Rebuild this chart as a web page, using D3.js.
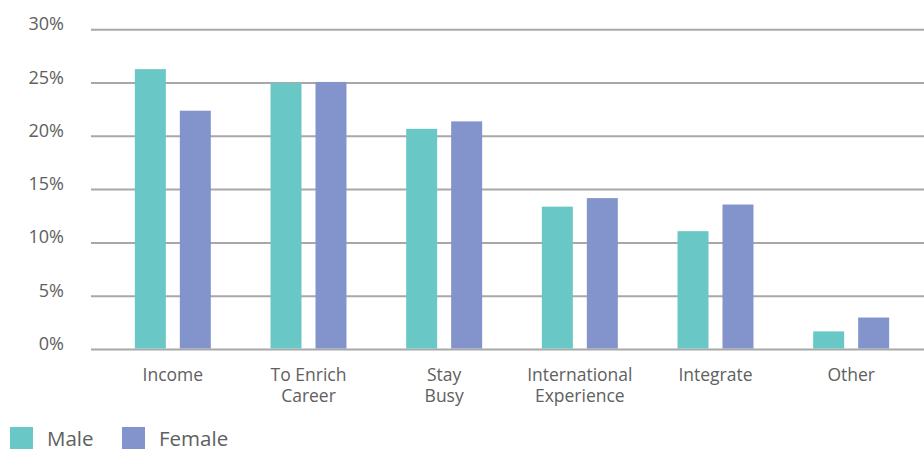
<!DOCTYPE html>
<html>
<head>
<meta charset="utf-8">
<script src="https://cdn.jsdelivr.net/npm/d3@7"></script>
<style>
  html, body { margin: 0; padding: 0; background: #fff; }
  svg { display: block; font-family: "Open Sans", sans-serif; }
</style>
</head>
<body>
<div id="chart"></div>
<script>
// values (percent)
const categories = ['Income', 'To Enrich Career', 'Stay Busy', 'International Experience', 'Integrate', 'Other'];
const categoryLines = [['Income'], ['To Enrich', 'Career'], ['Stay', 'Busy'], ['International', 'Experience'], ['Integrate'], ['Other']];
const maleValues = [26.3, 25.0, 20.7, 13.4, 11.1, 1.7];
const femaleValues = [22.4, 25.1, 21.4, 14.2, 13.6, 3.0];
const seriesNames = ['Male', 'Female'];
const yTicks = [0, 5, 10, 15, 20, 25, 30];

const colors = { Male: '#69c8c6', Female: '#8393cb' };
const width = 924;
const height = 451;

const svg = d3.select('#chart').append('svg')
  .attr('width', width)
  .attr('height', height);

const y = d3.scaleLinear().domain([0, 30]).range([349.5, 29.7]);
const x0 = d3.scaleBand().domain(categories).range([105, 919]).paddingInner(0.44).paddingOuter(0.22);
const x1 = d3.scaleBand().domain(seriesNames).range([0, x0.bandwidth()]).paddingInner(0.311).paddingOuter(0);

// gridlines
svg.append('g').selectAll('line')
  .data(yTicks)
  .join('line')
  .attr('x1', 91)
  .attr('x2', width)
  .attr('y1', (d) => y(d))
  .attr('y2', (d) => y(d))
  .attr('stroke', '#a8a8a8')
  .attr('stroke-width', 2);

// y tick labels
svg.append('g').selectAll('text')
  .data(yTicks)
  .join('text')
  .attr('x', 64)
  .attr('y', (d) => y(d) + 0.5)
  .attr('text-anchor', 'end')
  .attr('fill', '#606060')
  .attr('font-size', 18)
  .text((d) => `${d}%`);

// bars
const rows = categories.map((c, i) => ({ category: c, Male: maleValues[i], Female: femaleValues[i] }));
const groups = svg.append('g').selectAll('g')
  .data(rows)
  .join('g')
  .attr('transform', (d) => `translate(${x0(d.category)},0)`);

groups.selectAll('rect')
  .data((d) => seriesNames.map((s) => ({ series: s, value: d[s] })))
  .join('rect')
  .attr('x', (d) => x1(d.series))
  .attr('width', x1.bandwidth())
  .attr('y', (d) => y(d.value))
  .attr('height', (d) => y(0) - 1 - y(d.value))
  .attr('fill', (d) => colors[d.series]);

// category labels
const labels = svg.append('g').selectAll('text')
  .data(categories)
  .join('text')
  .attr('x', (d) => x0(d) + x0.bandwidth() / 2)
  .attr('y', 380.5)
  .attr('text-anchor', 'middle')
  .attr('fill', '#606060')
  .attr('font-size', 17.5);

labels.selectAll('tspan')
  .data((d, i) => categoryLines[i])
  .join('tspan')
  .attr('x', function () { return d3.select(this.parentNode).attr('x'); })
  .attr('dy', (d, i) => (i === 0 ? 0 : 21.5))
  .text((d) => d);

// legend
const legendX = [10, 122];
const legend = svg.append('g').selectAll('g')
  .data(seriesNames)
  .join('g')
  .attr('transform', (d, i) => `translate(${legendX[i]},427)`);
legend.append('rect')
  .attr('width', 23)
  .attr('height', 22)
  .attr('fill', (d) => colors[d]);
legend.append('text')
  .attr('x', 37)
  .attr('y', 19)
  .attr('fill', '#606060')
  .attr('font-size', 20.5)
  .text((d) => d);
</script>
</body>
</html>
